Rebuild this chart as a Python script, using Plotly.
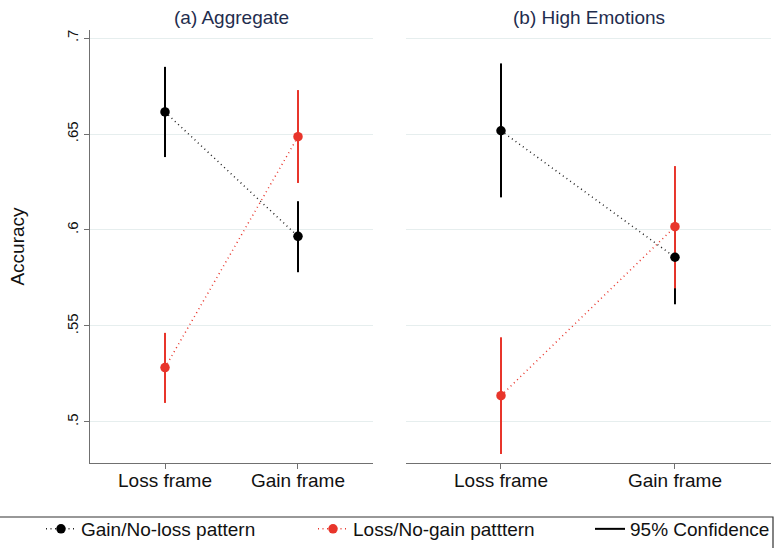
import plotly.graph_objects as go

# Frame categories shown on both panels
frames = ["Loss frame", "Gain frame"]

# (a) Aggregate: point estimates and 95% confidence bounds
agg_gain_noloss = [0.6615, 0.5967]
agg_gain_noloss_lo = [0.6380, 0.5780]
agg_gain_noloss_hi = [0.6850, 0.6150]
agg_loss_nogain = [0.5283, 0.6486]
agg_loss_nogain_lo = [0.5099, 0.6245]
agg_loss_nogain_hi = [0.5464, 0.6729]

# (b) High Emotions: point estimates and 95% confidence bounds
high_gain_noloss = [0.6517, 0.5858]
high_gain_noloss_lo = [0.6170, 0.5613]
high_gain_noloss_hi = [0.6868, 0.6103]
high_loss_nogain = [0.5137, 0.6017]
high_loss_nogain_lo = [0.4833, 0.5696]
high_loss_nogain_hi = [0.5441, 0.6333]

# Y axis ticks
y_ticks = [0.5, 0.55, 0.6, 0.65, 0.7]
y_tick_labels = [".5", ".55", ".6", ".65", ".7"]

BLACK = "#000000"
RED = "#e8352b"
GRID = "#e6eeee"
AXIS = "#707070"
TITLE = "#1f2d4e"
FONT = "Liberation Sans, Arial, Helvetica, sans-serif"
DOTS = "1px,3.5px"

W, H = 780, 548


def px_x(p):
    return p / W


def px_y(p):
    return 1 - p / H


def ci_segments(lo, hi):
    xs, ys = [], []
    for f, a, b in zip(frames, lo, hi):
        xs += [f, f, None]
        ys += [a, b, None]
    return xs, ys


fig = go.Figure()

panels = [
    ("x", "y", agg_gain_noloss, agg_gain_noloss_lo, agg_gain_noloss_hi,
     agg_loss_nogain, agg_loss_nogain_lo, agg_loss_nogain_hi, True),
    ("x2", "y2", high_gain_noloss, high_gain_noloss_lo, high_gain_noloss_hi,
     high_loss_nogain, high_loss_nogain_lo, high_loss_nogain_hi, False),
]

for xa, ya, g, glo, ghi, l, llo, lhi, show in panels:
    # confidence intervals first so the estimates sit on top
    cx, cy = ci_segments(glo, ghi)
    fig.add_trace(go.Scatter(
        x=cx, y=cy, xaxis=xa, yaxis=ya, mode="lines",
        line=dict(color=BLACK, width=2), name="95% Confidence",
        showlegend=show, legend="legend3", hoverinfo="skip"))
    cx, cy = ci_segments(llo, lhi)
    fig.add_trace(go.Scatter(
        x=cx, y=cy, xaxis=xa, yaxis=ya, mode="lines",
        line=dict(color=RED, width=2), showlegend=False, hoverinfo="skip"))
    fig.add_trace(go.Scatter(
        x=frames, y=g, xaxis=xa, yaxis=ya, mode="lines+markers",
        line=dict(color="#222222", width=1.5, dash=DOTS),
        marker=dict(color=BLACK, size=9.5),
        name="Gain/No-loss pattern", showlegend=show, legend="legend"))
    fig.add_trace(go.Scatter(
        x=frames, y=l, xaxis=xa, yaxis=ya, mode="lines+markers",
        line=dict(color=RED, width=1.5, dash=DOTS),
        marker=dict(color=RED, size=9.5),
        name="Loss/No-gain patttern", showlegend=show, legend="legend2"))

y_dom = [px_y(463), px_y(30)]
y_range = [0.4786, 0.7042]

common_x = dict(
    type="category", categoryorder="array", categoryarray=frames,
    showline=True, linecolor=AXIS, linewidth=1.2,
    ticks="outside", ticklen=5, tickcolor=AXIS,
    tickfont=dict(size=19, color="#111111", family=FONT),
    ticklabelstandoff=-5,
    showgrid=False, zeroline=False, fixedrange=True,
)

legend_common = dict(
    orientation="h", xanchor="left", y=0, yanchor="bottom",
    font=dict(size=19, color="#111111", family=FONT),
    borderwidth=0, bgcolor="rgba(0,0,0,0)",
)

fig.update_layout(
    width=W, height=H,
    margin=dict(l=0, r=0, t=0, b=0),
    paper_bgcolor="white", plot_bgcolor="white",
    font=dict(family=FONT, color="#111111"),
    xaxis=dict(domain=[px_x(90), px_x(373)], range=[-0.564, 1.564],
               anchor="y", **common_x),
    xaxis2=dict(domain=[px_x(406), px_x(771)], range=[-0.546, 1.552],
                anchor="y2", **common_x),
    yaxis=dict(
        domain=y_dom, range=y_range, anchor="x",
        tickvals=y_ticks, ticktext=y_tick_labels, tickangle=-90,
        tickfont=dict(size=15, color="#111111"),
        showline=True, linecolor=AXIS, linewidth=1.2,
        ticks="outside", ticklen=5, tickcolor=AXIS,
        showgrid=True, gridcolor=GRID, gridwidth=1.2, zeroline=False,
        title=dict(text="Accuracy", font=dict(size=19, color="#111111"),
                   standoff=34),
        fixedrange=True,
    ),
    yaxis2=dict(
        domain=y_dom, range=y_range, anchor="x2",
        tickvals=y_ticks, showticklabels=False, ticks="",
        showline=False, showgrid=True, gridcolor=GRID, gridwidth=1.2,
        zeroline=False, fixedrange=True,
    ),
    legend=dict(x=px_x(41), **legend_common),
    legend2=dict(x=px_x(313), **legend_common),
    legend3=dict(x=px_x(590), **legend_common),
    showlegend=True,
)

# panel titles
for xa, text in [("x", "(a) Aggregate"), ("x2", "(b) High Emotions")]:
    fig.add_annotation(
        text=text, xref=f"{xa} domain", x=0.5, yref="paper", y=px_y(17),
        xanchor="center", yanchor="middle", showarrow=False,
        font=dict(size=19, color=TITLE, family=FONT))

# legend frame
fig.add_shape(type="rect", xref="paper", yref="paper",
              x0=px_x(-5), x1=px_x(773), y0=px_y(560), y1=px_y(517),
              line=dict(color="#333333", width=1.2), fillcolor="rgba(0,0,0,0)",
              layer="below")

fig.write_html("out.html")
